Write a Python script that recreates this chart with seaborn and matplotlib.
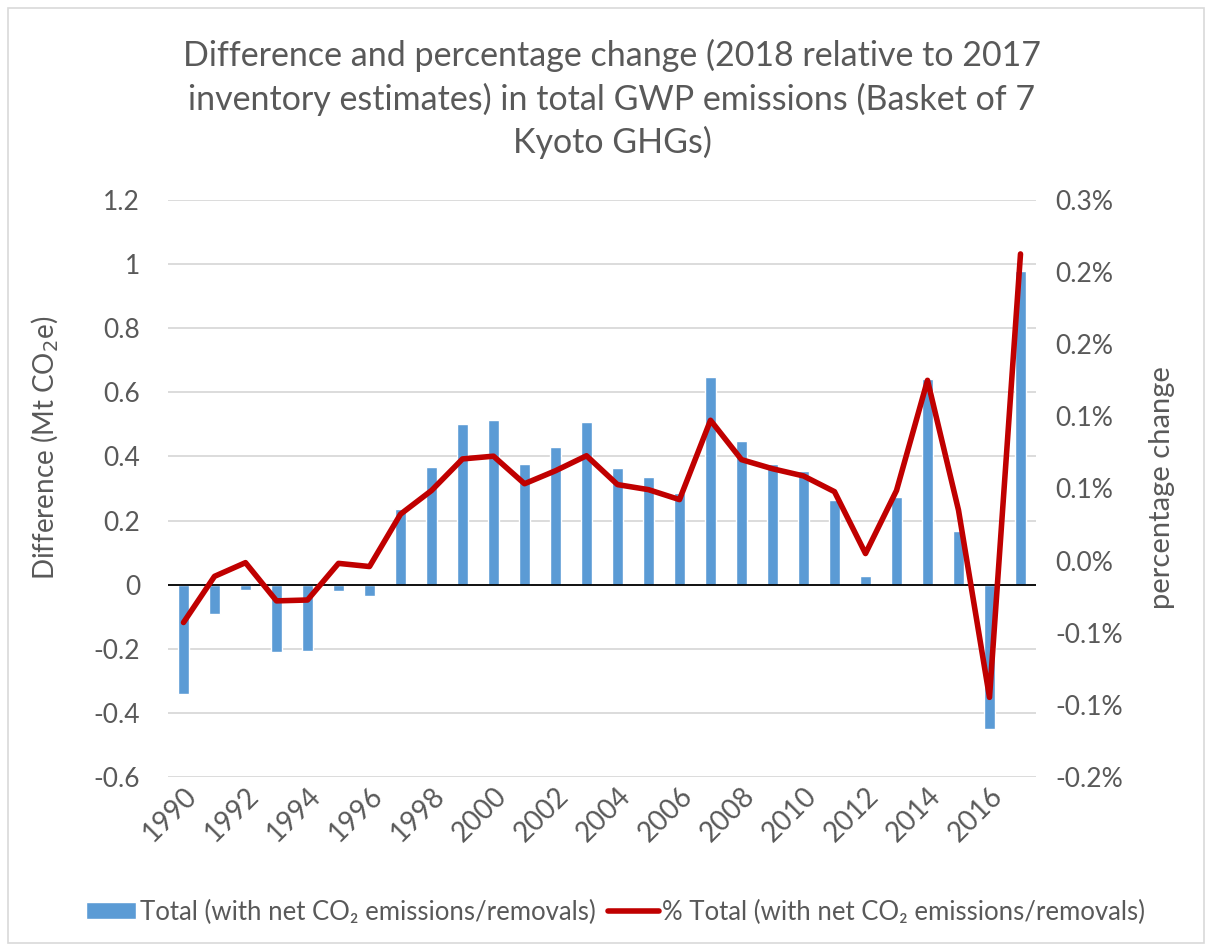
import numpy as np
import pandas as pd
import matplotlib
matplotlib.use("Agg")
import matplotlib.pyplot as plt
from matplotlib.patches import Rectangle
from matplotlib.ticker import FuncFormatter, FixedLocator
from decimal import Decimal, ROUND_HALF_UP
import seaborn as sns

# ---- data -------------------------------------------------------------
years = list(range(1990, 2018))
difference_mt = [-0.341, -0.090, -0.016, -0.210, -0.207, -0.021, -0.034, 0.236,
                 0.367, 0.500, 0.514, 0.377, 0.431, 0.509, 0.363, 0.337,
                 0.287, 0.647, 0.449, 0.375, 0.355, 0.265, 0.028, 0.274,
                 0.643, 0.168, -0.449, 0.980]
pct_change = [-0.0429, -0.0109, -0.0014, -0.0279, -0.0273, -0.0019, -0.0041, 0.0322,
              0.0486, 0.0705, 0.0724, 0.0533, 0.0623, 0.0727, 0.0527, 0.0492,
              0.0423, 0.0973, 0.0700, 0.0637, 0.0587, 0.0478, 0.0049, 0.0486,
              0.1250, 0.0350, -0.0948, 0.2126]
left_ticks = [-0.6, -0.4, -0.2, 0, 0.2, 0.4, 0.6, 0.8, 1.0, 1.2]
right_ticks = [-0.15, -0.10, -0.05, 0.0, 0.05, 0.10, 0.15, 0.20, 0.25]

title = ("Difference and percentage change (2018 relative to 2017\n"
         "inventory estimates) in total GWP emissions (Basket of 7\n"
         "Kyoto GHGs)")
bar_label = "Total (with net CO\u2082 emissions/removals)"
line_label = "% Total (with net CO\u2082 emissions/removals)"

df = pd.DataFrame({"year": years, "diff": difference_mt, "pct": pct_change})
df["pos"] = np.arange(len(df))

# ---- style ------------------------------------------------------------
sns.set_theme(style="white")
plt.rcParams["font.family"] = ["Lato", "DejaVu Sans"]
TXT = "#595959"
BAR = "#5B9BD5"
LINE = "#C00000"

fig = plt.figure(figsize=(12.12, 9.51), dpi=100)
ax = fig.add_axes([168 / 1212, 1 - 777 / 951, 868 / 1212, 577 / 951])

sns.barplot(data=df, x="pos", y="diff", color=BAR, saturation=1, width=0.33,
            ax=ax, label=bar_label, zorder=2)
if ax.get_legend() is not None:
    ax.get_legend().remove()
ax.set_ylim(-0.6, 1.2)
ax.yaxis.set_major_locator(FixedLocator(left_ticks))
ax.yaxis.set_major_formatter(FuncFormatter(lambda v, p: f"{round(v, 2):g}"))
ax.grid(axis="y", color="#D9D9D9", lw=1.3, zorder=0)
ax.set_axisbelow(True)
ax.axhline(0, color="black", lw=1.3, zorder=3)
ax.set_xlim(-0.5, len(years) - 0.5)
ax.set_xticks(df["pos"][::2])
ax.set_xticklabels([str(y) for y in years[::2]], rotation=45, ha="right",
                   rotation_mode="anchor", fontsize=20, color=TXT)
ax.tick_params(axis="x", length=0, pad=4)
ax.tick_params(axis="y", length=0, pad=20, labelsize=19, labelcolor=TXT)
ax.set_xlabel("")
ax.set_ylabel("")
for s in ax.spines.values():
    s.set_visible(False)

ax2 = ax.twinx()
sns.lineplot(data=df, x="pos", y="pct", color=LINE, lw=4, ax=ax2,
             label=line_label, legend=False)
ax2.set_ylim(-0.15, 0.25)
ax2.yaxis.set_major_locator(FixedLocator(right_ticks))


def pct_fmt(v, p):
    d = Decimal(str(round(v, 4))).quantize(Decimal("0.1"), rounding=ROUND_HALF_UP)
    return f"{d}%"


ax2.yaxis.set_major_formatter(FuncFormatter(pct_fmt))
ax2.tick_params(axis="y", length=0, pad=14, labelsize=19, labelcolor=TXT)
ax2.set_ylabel("")
ax2.set_xlim(-0.5, len(years) - 0.5)
for s in ax2.spines.values():
    s.set_visible(False)

# ---- texts ------------------------------------------------------------
fig.text(0.505, 1 - 99 / 951, title, ha="center", va="center", fontsize=24.5,
         color=TXT, linespacing=1.38)
fig.text(45 / 1212, 1 - 448 / 951, "Difference (Mt CO$_2$e)", rotation=90,
         ha="center", va="center", fontsize=20, color=TXT)
fig.text(1162 / 1212, 1 - 488 / 951, "percentage change", rotation=90,
         ha="center", va="center", fontsize=21, color=TXT)

h1, l1 = ax.get_legend_handles_labels()
h2, l2 = ax2.get_legend_handles_labels()
leg = fig.legend(h1 + h2, l1 + l2, loc="center", bbox_to_anchor=(0.508, 1 - 912 / 951),
                 ncol=2, frameon=False, fontsize=18.5, handlelength=1.95,
                 handleheight=0.6, handletextpad=0.15, columnspacing=0.5)
for t in leg.get_texts():
    t.set_color(TXT)

fig.patches.append(Rectangle((8 / 1212, 8 / 951), 1196 / 1212, 935 / 951,
                             transform=fig.transFigure, fill=False,
                             edgecolor="#D9D9D9", lw=1.2))

fig.savefig("out.png", dpi=100, facecolor="white")
